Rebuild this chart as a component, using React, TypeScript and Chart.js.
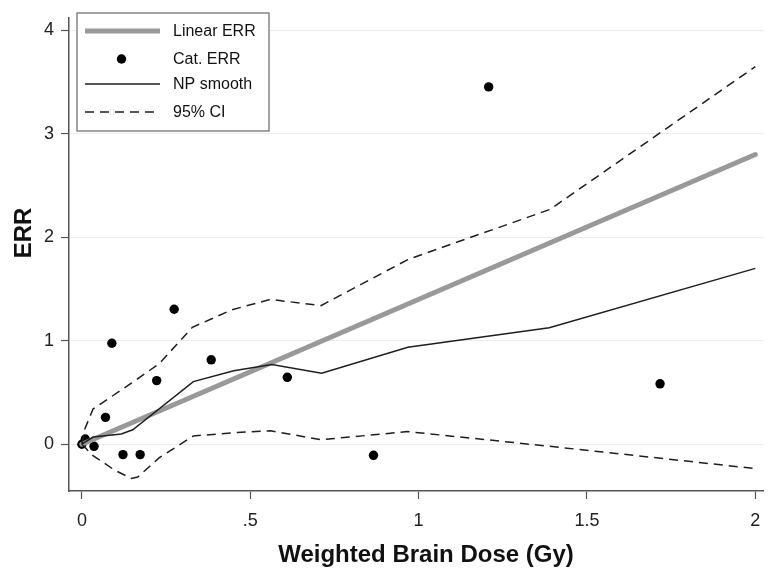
import React, { useEffect, useRef } from "react";
import { Chart, registerables } from "chart.js";

Chart.register(...registerables);

// ---- data ----
const linearX = [0, 2];
const linearY = [0, 2.8];

const catX = [0, 0.01, 0.036, 0.07, 0.089, 0.122, 0.173, 0.222, 0.274, 0.384, 0.61, 0.866, 1.208, 1.717];
const catY = [0, 0.05, -0.02, 0.26, 0.976, -0.1, -0.1, 0.615, 1.305, 0.816, 0.647, -0.107, 3.454, 0.584];

const npX = [0, 0.033, 0.117, 0.151, 0.331, 0.451, 0.564, 0.712, 0.968, 1.388, 2];
const npY = [0, 0.07, 0.1, 0.14, 0.605, 0.71, 0.77, 0.687, 0.938, 1.126, 1.7];

const ciUpX = [0, 0.009, 0.033, 0.147, 0.23, 0.328, 0.446, 0.56, 0.71, 0.968, 1.39, 2];
const ciUpY = [0, 0.15, 0.34, 0.59, 0.78, 1.13, 1.3, 1.4, 1.34, 1.785, 2.27, 3.65];

const ciLoX = [0, 0.033, 0.097, 0.147, 0.166, 0.23, 0.331, 0.446, 0.56, 0.71, 0.968, 1.39, 2];
const ciLoY = [0, -0.11, -0.25, -0.33, -0.317, -0.13, 0.08, 0.11, 0.13, 0.044, 0.122, -0.02, -0.235];

const xTickValues = [0, 0.5, 1, 1.5, 2];
const xTickLabels = ["0", ".5", "1", "1.5", "2"];
const yTickValues = [0, 1, 2, 3, 4];
const yTickLabels = ["0", "1", "2", "3", "4"];

const legendLabels = ["Linear ERR", "Cat. ERR", "NP smooth", "95% CI"];
const xTitle = "Weighted Brain Dose (Gy)";
const yTitle = "ERR";

const FONT = "'Liberation Sans', Arial, Helvetica, sans-serif";
const DARK = "#1e1e1e";

const toPts = (xs: number[], ys: number[]) => xs.map((x, i) => ({ x, y: ys[i] }));

const boxLegend = {
  id: "boxLegend",
  afterDatasetsDraw(chart: any) {
    const ctx = chart.ctx as CanvasRenderingContext2D;
    ctx.save();
    const x0 = 77, y0 = 13, w = 192, h = 118;
    ctx.fillStyle = "#ffffff";
    ctx.fillRect(x0, y0, w, h);
    ctx.strokeStyle = "#666666";
    ctx.lineWidth = 1.2;
    ctx.strokeRect(x0, y0, w, h);
    const rows = [31, 59, 84, 112];
    const sx0 = 85, sx1 = 160, tx = 173;
    ctx.font = `16px ${FONT}`;
    ctx.textBaseline = "middle";
    ctx.textAlign = "left";
    legendLabels.forEach((lab, i) => {
      const y = rows[i];
      ctx.save();
      if (i === 0) {
        ctx.strokeStyle = "#999999";
        ctx.lineWidth = 5;
        ctx.beginPath(); ctx.moveTo(sx0, y); ctx.lineTo(sx1, y); ctx.stroke();
      } else if (i === 1) {
        ctx.fillStyle = "#000";
        ctx.beginPath(); ctx.arc((sx0 + sx1) / 2 - 1, y, 4.7, 0, Math.PI * 2); ctx.fill();
      } else if (i === 2) {
        ctx.strokeStyle = DARK;
        ctx.lineWidth = 1.5;
        ctx.beginPath(); ctx.moveTo(sx0, y); ctx.lineTo(sx1, y); ctx.stroke();
      } else {
        ctx.strokeStyle = DARK;
        ctx.lineWidth = 1.5;
        ctx.setLineDash([9, 6]);
        ctx.beginPath(); ctx.moveTo(sx0, y); ctx.lineTo(sx1, y); ctx.stroke();
      }
      ctx.restore();
      ctx.fillStyle = "#111";
      ctx.fillText(lab, tx, y + 1);
    });
    ctx.restore();
  },
};

const axisTitles = {
  id: "axisTitles",
  afterDraw(chart: any) {
    const ctx = chart.ctx as CanvasRenderingContext2D;
    const xs = chart.scales.x;
    ctx.save();
    // x tick labels, positioned through the x scale
    ctx.fillStyle = "#222";
    ctx.font = `18px ${FONT}`;
    ctx.textAlign = "center";
    ctx.textBaseline = "middle";
    xTickValues.forEach((v, i) => {
      ctx.fillText(xTickLabels[i], xs.getPixelForValue(v), xs.top + 30);
    });
    // axis titles
    ctx.fillStyle = "#111";
    ctx.font = `bold 24px ${FONT}`;
    ctx.fillText(xTitle, 426, 555);
    ctx.translate(24, 233);
    ctx.rotate(-Math.PI / 2);
    ctx.fillText(yTitle, 0, 0);
    ctx.restore();
  },
};

export default function App() {
  const ref = useRef<HTMLCanvasElement | null>(null);
  useEffect(() => {
    if (!ref.current) return;
    const chart = new Chart(ref.current, {
      type: "scatter",
      data: {
        datasets: [
          {
            label: legendLabels[2],
            type: "line",
            data: toPts(npX, npY),
            borderColor: DARK,
            borderWidth: 1.5,
            pointRadius: 0,
            tension: 0,
            fill: false,
            order: 0,
          },
          {
            label: legendLabels[3],
            type: "line",
            data: toPts(ciUpX, ciUpY),
            borderColor: DARK,
            borderWidth: 1.5,
            borderDash: [9, 6],
            pointRadius: 0,
            tension: 0,
            fill: false,
            order: 1,
          },
          {
            label: legendLabels[3] + " lower",
            type: "line",
            data: toPts(ciLoX, ciLoY),
            borderColor: DARK,
            borderWidth: 1.5,
            borderDash: [9, 6],
            pointRadius: 0,
            tension: 0,
            fill: false,
            order: 1,
          },
          {
            label: legendLabels[0],
            type: "line",
            data: toPts(linearX, linearY),
            borderColor: "#999999",
            borderWidth: 5,
            borderCapStyle: "round",
            pointRadius: 0,
            fill: false,
            order: 2,
          },
          {
            label: legendLabels[1],
            data: toPts(catX, catY),
            backgroundColor: "#000",
            borderColor: "#000",
            pointRadius: 4.7,
            borderWidth: 0,
            order: 3,
          },
        ],
      },
      options: {
        animation: false,
        responsive: false,
        devicePixelRatio: 1,
        layout: { padding: { top: 5, right: 0, left: 0, bottom: 0 } },
        plugins: { legend: { display: false }, tooltip: { enabled: false } },
        scales: {
          x: {
            type: "linear",
            min: -0.0383,
            max: 2.0236,
            afterBuildTicks: (s: any) => {
              s.ticks = xTickValues.map((v) => ({ value: v }));
            },
            afterFit: (s: any) => {
              s.height = 85;
            },
            ticks: { display: false },
            grid: { drawOnChartArea: false, drawTicks: true, tickColor: "#555", tickLength: 8, tickWidth: 1.2 },
            border: { display: true, color: "#555", width: 1.5 },
            title: { display: false },
          },
          y: {
            type: "linear",
            min: -0.452,
            max: 4.122,
            afterBuildTicks: (s: any) => {
              s.ticks = yTickValues.map((v) => ({ value: v }));
            },
            afterFit: (s: any) => {
              s.width = 69;
            },
            ticks: {
              callback: (v: any) => {
                const i = yTickValues.indexOf(Number(v));
                return i >= 0 ? yTickLabels[i] : "";
              },
              font: { family: FONT, size: 18 },
              color: "#222",
              padding: 7,
              autoSkip: false,
            },
            grid: { color: "#ececec", lineWidth: 1, tickColor: "#555", tickLength: 8, tickWidth: 1.2 },
            border: { display: true, color: "#555", width: 1.5 },
            title: { display: false },
          },
        },
      },
      plugins: [boxLegend, axisTitles],
    });
    return () => chart.destroy();
  }, []);
  return (
    <div style={{ position: "absolute", left: 0, top: 0, width: 768, height: 576, background: "#fff" }}>
      <canvas ref={ref} width={768} height={576} />
    </div>
  );
}
